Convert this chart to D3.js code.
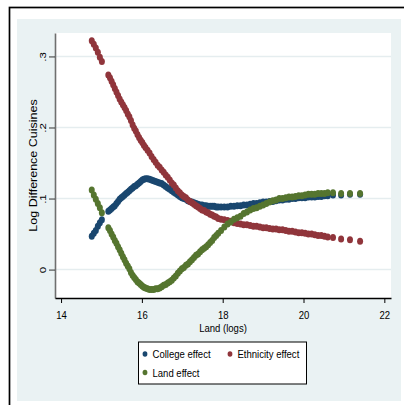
<!DOCTYPE html>
<html>
<head>
<meta charset="utf-8">
<script src="https://cdn.jsdelivr.net/npm/d3@7"></script>
<style>
  html, body { margin: 0; padding: 0; background: #fff; }
  svg { display: block; font-family: "Liberation Sans", Arial, Helvetica, sans-serif; }
</style>
</head>
<body>
<div id="chart"></div>
<script>
// land (logs) of each observation, shared by the three effects
const landX = [14.76, 14.81, 14.86, 14.91, 14.96, 15.01,
  15.17, 15.21, 15.25, 15.29, 15.33, 15.37, 15.41, 15.45, 15.49, 15.53, 15.57, 15.61, 15.65, 15.69,
  15.73, 15.77, 15.81, 15.85, 15.89, 15.93, 15.97, 16.01, 16.05, 16.09,
  16.14, 16.19, 16.24, 16.29, 16.34, 16.39, 16.44, 16.49, 16.54, 16.59, 16.64, 16.69, 16.74, 16.79,
  16.84, 16.89, 16.94, 16.99, 17.04, 17.09, 17.14, 17.19, 17.24, 17.29, 17.34, 17.39, 17.44, 17.49,
  17.54, 17.59, 17.64, 17.69, 17.74, 17.79, 17.84, 17.89,
  17.96, 18.04, 18.12, 18.20, 18.28, 18.36, 18.44, 18.52, 18.60, 18.68, 18.76, 18.84, 18.92, 19.00,
  19.08, 19.16, 19.24, 19.32, 19.40, 19.48, 19.56, 19.64, 19.72, 19.80, 19.88, 19.96, 20.04, 20.12,
  20.20, 20.28, 20.36, 20.44, 20.52, 20.60,
  20.73, 20.93, 21.15, 21.40];

const collegeY = [.047, .051, .055, .061, .066, .070,
  .082, .084, .086, .088, .090, .093, .096, .099, .101, .103, .105, .107, .109, .111,
  .113, .115, .117, .118, .120, .122, .124, .126, .127, .128,
  .128, .127, .126, .125, .124, .123, .122, .121, .119, .117, .115, .113, .111, .109,
  .107, .105, .103, .101, .100, .099, .097, .096, .095, .094, .093, .092, .091, .091,
  .090, .090, .089, .089, .089, .089, .088, .088,
  .088, .088, .088, .089, .089, .090, .090, .091, .091, .092, .093, .093, .094, .095,
  .095, .096, .096, .097, .098, .098, .099, .099, .100, .100, .101, .101, .101, .102,
  .102, .102, .103, .103, .104, .104,
  .105, .105, .106, .106];

const ethnicityY = [.322, .317, .312, .306, .299, .293,
  .274, .270, .265, .260, .255, .250, .245, .240, .236, .232, .228, .224, .219, .215,
  .210, .204, .199, .195, .190, .186, .182, .179, .175, .172,
  .168, .164, .159, .155, .151, .147, .144, .140, .137, .133, .130, .126, .122, .119,
  .115, .111, .108, .105, .103, .101, .098, .096, .094, .092, .090, .088, .086, .084,
  .083, .081, .080, .078, .077, .075, .074, .072,
  .071, .070, .069, .068, .066, .065, .064, .063, .063, .062, .061, .061, .060, .059,
  .059, .058, .057, .057, .056, .056, .055, .054, .054, .053, .052, .052, .051, .050,
  .050, .049, .048, .048, .047, .046,
  .045, .043, .042, .040];

const landEffectY = [.112, .105, .099, .093, .087, .080,
  .059, .055, .050, .046, .041, .037, .032, .028, .023, .018, .014, .009, .005, .001,
  -.004, -.008, -.011, -.014, -.017, -.019, -.021, -.023, -.025, -.026,
  -.027, -.028, -.028, -.028, -.027, -.027, -.026, -.024, -.022, -.021, -.019, -.017, -.015, -.012,
  -.009, -.005, -.002, .001, .003, .006, .008, .011, .014, .017, .020, .022, .025, .028,
  .030, .032, .035, .038, .041, .045, .048, .051,
  .055, .060, .064, .067, .071, .073, .075, .079, .081, .084, .086, .087, .089, .091,
  .093, .095, .097, .098, .100, .100, .101, .102, .102, .103, .104, .104, .105, .106,
  .106, .106, .107, .107, .107, .108,
  .108, .107, .107, .107];

const seriesNames = ['College effect', 'Ethnicity effect', 'Land effect'];
const xTicks = [14, 16, 18, 20, 22];
const yTicks = [0, 0.1, 0.2, 0.3];
const yTickLabels = ['0', '.1', '.2', '.3'];
const xTitle = 'Land (logs)';
const yTitle = 'Log Difference Cuisines';

const width = 404, height = 405;
const margin = { top: 33, right: 13, bottom: 107, left: 55 };
const plotW = width - margin.left - margin.right;
const plotH = height - margin.top - margin.bottom;
const squish = 0.83; // text is a bit narrow in the picture
const fontSize = 11.5;
const colors = ['#1a476f', '#90353b', '#55752f'];

const svg = d3.select('#chart').append('svg')
  .attr('width', width)
  .attr('height', height);

// graph region and outer frame
svg.append('rect')
  .attr('x', 17).attr('y', 19)
  .attr('width', 384).attr('height', 382)
  .attr('fill', '#eaf2f3');
svg.append('rect')
  .attr('x', 9.5).attr('y', 7.5)
  .attr('width', 400).attr('height', 400)
  .attr('fill', 'none')
  .attr('stroke', '#000')
  .attr('stroke-width', 1.7);

const g = svg.append('g')
  .attr('transform', 'translate(' + margin.left + ',' + margin.top + ')');

g.append('rect')
  .attr('width', plotW)
  .attr('height', plotH)
  .attr('fill', '#fff');

const x = d3.scaleLinear().domain([13.85, 22.165]).range([0, plotW]);
const y = d3.scaleLinear().domain([-0.04, 0.333]).range([plotH, 0]);

// gridlines
g.append('g').selectAll('line')
  .data(yTicks)
  .join('line')
  .attr('x1', 0).attr('x2', plotW)
  .attr('y1', d => y(d)).attr('y2', d => y(d))
  .attr('stroke', '#e5edef')
  .attr('stroke-width', 1.5);

// scatter points, one layer per effect
[collegeY, ethnicityY, landEffectY].forEach((vals, i) => {
  g.append('g').selectAll('ellipse')
    .data(vals)
    .join('ellipse')
    .attr('cx', (d, j) => x(landX[j]))
    .attr('cy', d => y(d))
    .attr('rx', 3.0)
    .attr('ry', 3.5)
    .attr('fill', colors[i]);
});

// Y axis
const yAxis = g.append('g')
  .call(d3.axisLeft(y).tickValues(yTicks)
    .tickFormat(d => yTickLabels[yTicks.indexOf(d)])
    .tickSize(6).tickSizeOuter(0));
yAxis.attr('font-family', null).attr('font-size', null);
yAxis.select('.domain').attr('stroke', '#6f6f6f').attr('stroke-width', 1.6);
yAxis.selectAll('.tick line').attr('stroke', '#333');
yAxis.selectAll('.tick text')
  .attr('x', null).attr('dy', null)
  .attr('text-anchor', 'middle')
  .attr('fill', '#000')
  .attr('font-size', fontSize)
  .attr('transform', 'translate(-9.5,0) scale(' + squish + ',1) rotate(-90)');

// X axis
const xAxis = g.append('g')
  .attr('transform', 'translate(0,' + plotH + ')')
  .call(d3.axisBottom(x).tickValues(xTicks).tickSize(5).tickSizeOuter(0));
xAxis.attr('font-family', null).attr('font-size', null);
xAxis.select('.domain').attr('stroke', '#000').attr('stroke-width', 1.7);
xAxis.selectAll('.tick line').attr('stroke', '#000');
xAxis.selectAll('.tick text')
  .attr('y', null).attr('dy', null)
  .attr('fill', '#000')
  .attr('font-size', fontSize)
  .attr('transform', 'translate(0,20.5) scale(' + squish + ',1)');

// axis titles
svg.append('text')
  .attr('transform', 'translate(223,331.5) scale(' + squish + ',1)')
  .attr('text-anchor', 'middle')
  .attr('font-size', fontSize)
  .text(xTitle);
svg.append('text')
  .attr('transform', 'translate(36.5,165.5) scale(' + squish + ',1) rotate(-90)')
  .attr('text-anchor', 'middle')
  .attr('font-size', 12.5)
  .text(yTitle);

// legend
const legend = svg.append('g');
legend.append('rect')
  .attr('x', 138.5).attr('y', 342)
  .attr('width', 168).attr('height', 42)
  .attr('fill', '#fff')
  .attr('stroke', '#000')
  .attr('stroke-width', 1);
const legendPos = [[145, 354], [230, 354], [145, 372.5]];
seriesNames.forEach((name, i) => {
  legend.append('ellipse')
    .attr('cx', legendPos[i][0]).attr('cy', legendPos[i][1])
    .attr('rx', 2.4).attr('ry', 2.8)
    .attr('fill', colors[i]);
  legend.append('text')
    .attr('transform', 'translate(' + (legendPos[i][0] + 7.5) + ',' + (legendPos[i][1] + 4) + ') scale(' + squish + ',1)')
    .attr('font-size', fontSize)
    .text(name);
});
</script>
</body>
</html>
